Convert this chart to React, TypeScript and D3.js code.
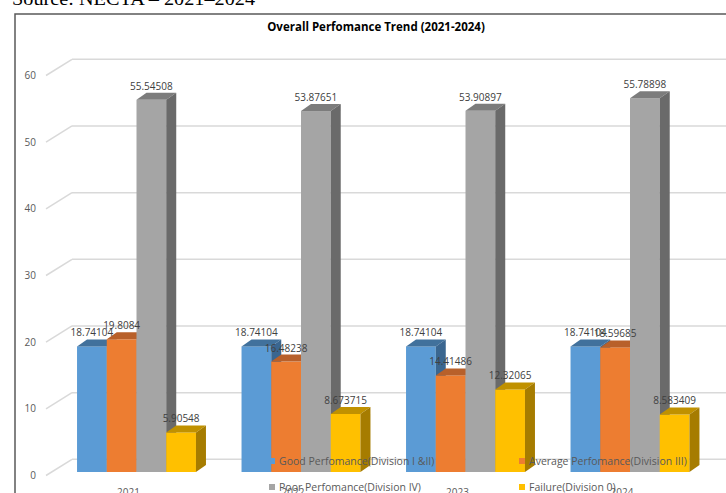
import React from "react";
import * as d3 from "d3";

const years = ["2021", "2022", "2023", "2024"];
const seriesNames = [
  "Good Perfomance(Division I &II)",
  "Average Perfomance(Division III)",
  "Poor Perfomance(Division IV)",
  "Failure(Division 0)",
];
const good = [18.74104, 18.74104, 18.74104, 18.74104];
const average = [19.8084, 16.48238, 14.41486, 18.59685];
const poor = [55.54508, 53.87651, 53.90897, 55.78898];
const failure = [5.90548, 8.673715, 12.32065, 8.583409];
const yTicks = [0, 10, 20, 30, 40, 50, 60];

const frontColors = ["#5B9BD5", "#ED7D31", "#A5A5A5", "#FFC000"];
const topColors = ["#41719C", "#B8602A", "#7C7C7C", "#C09100"];
const sideColors = ["#3A6690", "#A3551F", "#6A6A6A", "#A67C00"];

const FONT = "'Open Sans', 'Liberation Sans', sans-serif";

export default function App() {
  const W = 726;
  const H = 493;
  const values = [good, average, poor, failure];

  const yBar = d3.scaleLinear().domain([0, 60]).range([472, 70]);
  const yFront = d3.scaleLinear().domain([0, 60]).range([475.5, 75.5]);
  const yBack = d3.scaleLinear().domain([0, 60]).range([459.3, 59.3]);

  const x = d3
    .scaleBand<string>()
    .domain(years)
    .range([54.25, 712.25])
    .paddingInner(0.277)
    .paddingOuter(0.1385);
  const xs = d3.scaleBand<string>().domain(seriesNames).range([0, x.bandwidth()]);
  const dx = 10;
  const dy = -7;
  const backLeft = 72;
  const frontLeft = 46;

  const bars: any[] = [];
  const labels: any[] = [];
  years.forEach((yr, gi) => {
    seriesNames.forEach((s, si) => {
      const v = values[si][gi];
      const x0 = (x(yr) as number) + (xs(s) as number);
      const w = xs.bandwidth();
      const yTop = yBar(v);
      const yBase = yBar(0);
      bars.push(
        <g key={`b-${gi}-${si}`}>
          <rect x={x0} y={yTop} width={w} height={yBase - yTop} fill={frontColors[si]} />
          <polygon
            points={`${x0},${yTop} ${x0 + dx},${yTop + dy} ${x0 + w + dx},${yTop + dy} ${x0 + w},${yTop}`}
            fill={topColors[si]}
          />
          <polygon
            points={`${x0 + w},${yTop} ${x0 + w + dx},${yTop + dy} ${x0 + w + dx},${yBase + dy} ${x0 + w},${yBase}`}
            fill={sideColors[si]}
          />
        </g>
      );
      labels.push(
        <text
          key={`l-${gi}-${si}`}
          x={x0 + w / 2}
          y={yTop - 10}
          textAnchor="middle"
          fontSize={10}
          fill="#404040"
        >
          {String(v)}
        </text>
      );
    });
  });

  const legendPos = [
    { x: 269, y: 461 },
    { x: 519, y: 461 },
    { x: 269, y: 487 },
    { x: 519, y: 487 },
  ];

  return (
    <svg
      width={W}
      height={H}
      style={{ position: "absolute", left: 0, top: 0, fontFamily: FONT }}
    >
      <rect x={0} y={0} width={W} height={H} fill="#ffffff" />
      <text
        x={12}
        y={5}
        fontFamily="'Liberation Serif', 'DejaVu Serif', serif"
        fontSize={19}
        fill="#000"
        textLength={243}
        lengthAdjust="spacingAndGlyphs"
      >
        Source: NECTA – 2021–2024
      </text>
      <rect x={15} y={14} width={W + 20} height={H + 20} fill="#ffffff" stroke="#595959" strokeWidth={1.5} />
      <text x={376} y={31} textAnchor="middle" fontSize={11.5} fontWeight="bold" fill="#000">
        Overall Perfomance Trend (2021-2024)
      </text>

      {yTicks.map((t) => (
        <g key={`g-${t}`}>
          <line x1={frontLeft} y1={yFront(t)} x2={backLeft} y2={yBack(t)} stroke="#d9d9d9" strokeWidth={1.5} />
          <line x1={backLeft} y1={yBack(t)} x2={W} y2={yBack(t)} stroke="#d9d9d9" strokeWidth={1.5} />
          <text x={36} y={yFront(t)} dy="0.35em" textAnchor="end" fontSize={10} fill="#595959">
            {t}
          </text>
        </g>
      ))}

      {bars}
      {labels}

      {years.map((yr) => (
        <text
          key={`x-${yr}`}
          x={(x(yr) as number) + x.bandwidth() / 2 - 8}
          y={496}
          textAnchor="middle"
          fontSize={10}
          fill="#595959"
        >
          {yr}
        </text>
      ))}

      {seriesNames.map((s, i) => (
        <g key={`lg-${i}`}>
          <rect x={legendPos[i].x} y={legendPos[i].y - 3} width={6} height={6} fill={frontColors[i]} />
          <text x={legendPos[i].x + 10} y={legendPos[i].y} dy="0.35em" fontSize={10.5} fill="#595959">
            {s}
          </text>
        </g>
      ))}
    </svg>
  );
}
